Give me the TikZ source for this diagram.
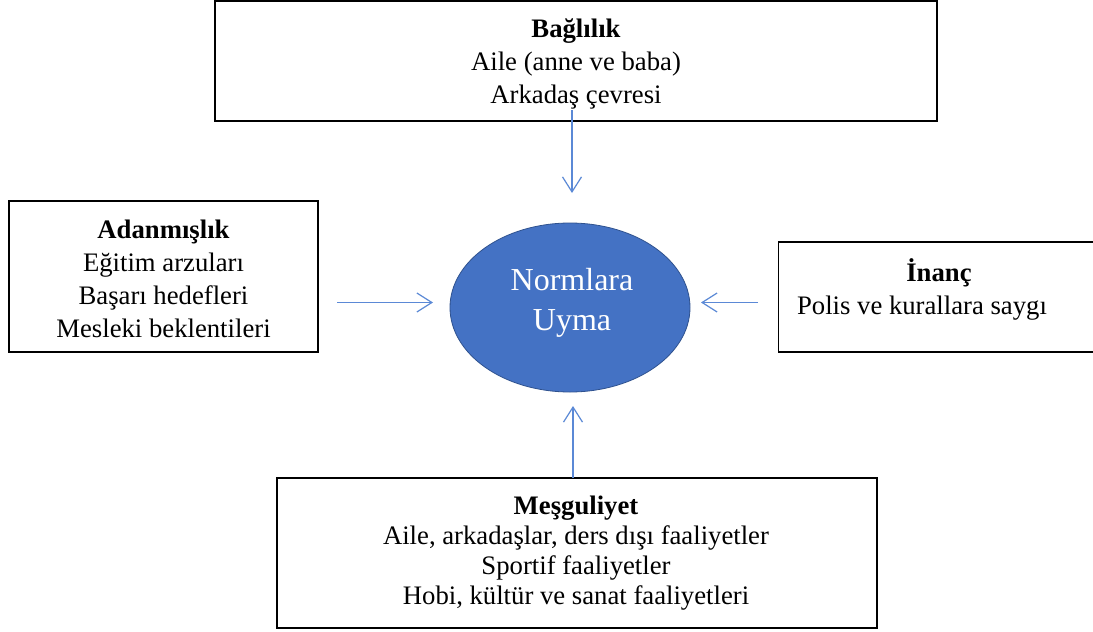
\documentclass[tikz,border=0pt]{standalone}
\usepackage{fontspec}
\setmainfont{Liberation Serif}
\usetikzlibrary{arrows.meta,shapes.geometric}
\definecolor{arrowblue}{RGB}{91,137,214}
\definecolor{ellfill}{RGB}{68,114,196}
\definecolor{elldraw}{RGB}{47,82,143}
\begin{document}
\begin{tikzpicture}[x=1pt,y=-1pt,
  box/.style={draw=black, line width=1.3pt, rectangle, inner sep=0pt, align=center, font=\fontsize{26.7}{33}\selectfont},
  txt/.style={inner sep=0pt, align=center, font=\fontsize{26.7}{33}\selectfont},
  conn/.style={draw=arrowblue, line width=1.2pt, -{Straight Barb[length=15pt,width=19pt,line width=1.2pt]}},
]
\path[use as bounding box, clip] (0,0) rectangle (1093,632);
\fill[white] (0,0) rectangle (1093,632);

\node[box, minimum width=722pt, minimum height=120pt] (bag) at (576,61) {};
\node[txt] (bagtxt) at (576,64)
  {\textbf{Bağlılık}\\Aile (anne ve baba)\\Arkadaş çevresi};
\node[box, minimum width=309pt, minimum height=151pt] (ada) at (163.5,276.5) {};
\node[txt] (adatxt) at (163.5,279)
  {\textbf{Adanmışlık}\\Eğitim arzuları\\Başarı hedefleri\\Mesleki beklentileri};
\node[box, minimum width=340pt, minimum height=110pt, anchor=west] (ina) at (777.5,297) {};
\node[txt] (inatxt) at (922,289) {\hspace*{34pt}\textbf{İnanç}\\Polis ve kurallara saygı};
\node[box, minimum width=600pt, minimum height=150pt] (mes) at (577,553) {};
\node[txt, font=\fontsize{26.7}{30}\selectfont] (mestxt) at (576,553)
  {\textbf{Meşguliyet}\\Aile, arkadaşlar, ders dışı faaliyetler\\Sportif faaliyetler\\Hobi, kültür ve sanat faaliyetleri};

\node[ellipse, fill=ellfill, draw=elldraw, line width=0.8pt, minimum width=240pt, minimum height=169pt,
  inner sep=0pt] (norm) at (570,307.5) {};
\node[txt, text=white, font=\fontsize{32}{40}\selectfont] (normtxt) at (572,303) {Normlara\\Uyma};

\coordinate (ts) at (572,110);
\coordinate (te) at (572,193);
\coordinate (ls) at (337,302.5);
\coordinate (le) at (433,302.5);
\coordinate (rs) at (758,302.5);
\coordinate (re) at (701,302.5);
\coordinate (bs) at (573,478);
\coordinate (be) at (573,406);

\draw[conn] (ts) -- (te);
\draw[conn] (ls) -- (le);
\draw[conn] (rs) -- (re);
\draw[conn] (bs) -- (be);
\end{tikzpicture}
\end{document}
